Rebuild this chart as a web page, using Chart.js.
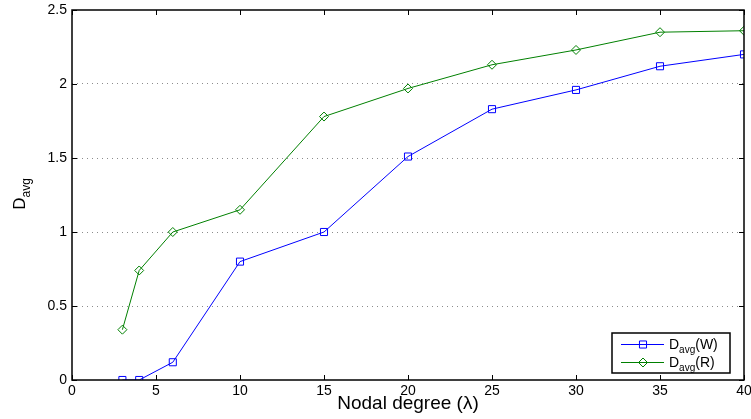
<!DOCTYPE html>
<html>
<head>
<meta charset="utf-8">
<script src="https://cdn.jsdelivr.net/npm/chart.js@4/dist/chart.umd.min.js"></script>
<style>
  html, body { margin: 0; padding: 0; background: #fff; }
  #wrap { width: 751px; height: 419px; }
</style>
</head>
<body>
<div id="wrap"><canvas id="chart_1"></canvas></div>
<script>
// nodal degree values on the x axis
const degrees = [3, 4, 6, 10, 15, 20, 25, 30, 35, 40];
// D_avg(W) and D_avg(R)
const davgW = [0, 0, 0.12, 0.80, 1.00, 1.51, 1.83, 1.96, 2.12, 2.20];
const davgR = [0.34, 0.74, 1.00, 1.15, 1.78, 1.97, 2.13, 2.23, 2.35, 2.36];
const xTicks = [0, 5, 10, 15, 20, 25, 30, 35, 40];
const yTicks = [0, 0.5, 1, 1.5, 2, 2.5];

const FONT = '"Liberation Sans", Arial, sans-serif';
const BLUE = '#0000ff';
const GREEN = '#008000';

function toPoints(xs, ys) {
    return xs.map((x, i) => ({ x: x, y: ys[i] }));
}

// draws the box, inward ticks, axis titles and the legend (subscripts need manual text)
const matlabLook = {
    id: 'matlabLook',
    afterDraw(chart) {
        const ctx = chart.ctx;
        const a = chart.chartArea;
        const xs = chart.scales.x;
        const ys = chart.scales.y;
        ctx.save();

        // inward ticks
        ctx.strokeStyle = '#000';
        ctx.lineWidth = 1;
        ctx.beginPath();
        xTicks.forEach((v) => {
            const px = Math.round(xs.getPixelForValue(v)) + 0.5;
            ctx.moveTo(px, a.bottom); ctx.lineTo(px, a.bottom - 5);
            ctx.moveTo(px, a.top); ctx.lineTo(px, a.top + 5);
        });
        yTicks.forEach((v) => {
            const py = Math.round(ys.getPixelForValue(v)) + 0.5;
            ctx.moveTo(a.left, py); ctx.lineTo(a.left + 5, py);
            ctx.moveTo(a.right, py); ctx.lineTo(a.right - 5, py);
        });
        ctx.stroke();

        // frame
        ctx.lineWidth = 1.5;
        ctx.strokeRect(a.left, a.top, a.right - a.left, a.bottom - a.top);

        // x title
        ctx.fillStyle = '#000';
        ctx.font = '19px ' + FONT;
        ctx.textAlign = 'center';
        ctx.textBaseline = 'alphabetic';
        ctx.fillText('Nodal degree (\u03bb)', (a.left + a.right) / 2, 409);

        // y title, rotated, with subscript
        ctx.save();
        ctx.translate(25, 194);
        ctx.rotate(-Math.PI / 2);
        ctx.textAlign = 'left';
        ctx.font = '17px ' + FONT;
        const dW = ctx.measureText('D').width;
        ctx.font = '12px ' + FONT;
        const sW = ctx.measureText('avg').width;
        const start = -(dW + sW) / 2;
        ctx.font = '17px ' + FONT;
        ctx.fillText('D', start, 0);
        ctx.font = '12px ' + FONT;
        ctx.fillText('avg', start + dW, 5);
        ctx.restore();

        // legend box
        const lx = 612, ly = 333, lw = 118, lh = 40;
        ctx.fillStyle = '#fff';
        ctx.fillRect(lx, ly, lw, lh);
        ctx.lineWidth = 1.5;
        ctx.strokeStyle = '#000';
        ctx.strokeRect(lx, ly, lw, lh);

        const entries = [
            { color: BLUE, style: 'rect', radius: 5, label: '(W)', y: ly + 11 },
            { color: GREEN, style: 'rectRot', radius: 4.5, label: '(R)', y: ly + 29 }
        ];
        entries.forEach((e) => {
            ctx.strokeStyle = e.color;
            ctx.lineWidth = 1;
            ctx.beginPath();
            ctx.moveTo(lx + 9, e.y + 0.5);
            ctx.lineTo(lx + 52, e.y + 0.5);
            ctx.stroke();
            ctx.fillStyle = 'rgba(0,0,0,0)';
            Chart.helpers.drawPoint(ctx, {
                pointStyle: e.style, radius: e.radius, borderWidth: 1, rotation: 0
            }, lx + 31, e.y + 0.5);

            ctx.fillStyle = '#000';
            ctx.textAlign = 'left';
            ctx.font = '14px ' + FONT;
            ctx.fillText('D', lx + 57, e.y + 5);
            const w1 = ctx.measureText('D').width;
            ctx.font = '10px ' + FONT;
            ctx.fillText('avg', lx + 57 + w1, e.y + 9);
            const w2 = ctx.measureText('avg').width;
            ctx.font = '14px ' + FONT;
            ctx.fillText(e.label, lx + 57 + w1 + w2, e.y + 5);
        });

        ctx.restore();
    }
};

const data = {
    datasets: [
        {
            label: 'Davg(W)',
            data: toPoints(degrees, davgW),
            borderColor: BLUE,
            backgroundColor: 'rgba(0,0,0,0)',
            borderWidth: 1,
            pointStyle: 'rect',
            pointRadius: 5,
            pointBorderWidth: 1,
            pointBorderColor: BLUE,
            pointBackgroundColor: 'rgba(0,0,0,0)',
            tension: 0
        },
        {
            label: 'Davg(R)',
            data: toPoints(degrees, davgR),
            borderColor: GREEN,
            backgroundColor: 'rgba(0,0,0,0)',
            borderWidth: 1,
            pointStyle: 'rectRot',
            pointRadius: 4.5,
            pointBorderWidth: 1,
            pointBorderColor: GREEN,
            pointBackgroundColor: 'rgba(0,0,0,0)',
            tension: 0
        }
    ]
};

const config = {
    type: 'line',
    data: data,
    options: {
        responsive: true,
        maintainAspectRatio: false,
        animation: false,
        layout: { padding: { left: 0, right: 7, top: 10, bottom: 0 } },
        plugins: {
            legend: { display: false },
            tooltip: { enabled: false }
        },
        scales: {
            x: {
                type: 'linear',
                min: 0,
                max: 40,
                afterFit: (s) => { s.height = 39; s.paddingLeft = 0; s.paddingRight = 0; },
                afterBuildTicks: (s) => { s.ticks = xTicks.map((v) => ({ value: v })); },
                grid: { display: false, drawTicks: false },
                border: { display: false },
                ticks: {
                    color: '#000',
                    padding: 3,
                    maxRotation: 0,
                    font: { family: FONT, size: 14 },
                    callback: (v) => String(v)
                }
            },
            y: {
                type: 'linear',
                min: 0,
                max: 2.5,
                afterFit: (s) => { s.width = 72; s.paddingTop = 0; s.paddingBottom = 0; },
                afterBuildTicks: (s) => { s.ticks = yTicks.map((v) => ({ value: v })); },
                grid: {
                    drawTicks: false,
                    lineWidth: 1,
                    color: (c) => (c.tick && (c.tick.value === 0 || c.tick.value === 2.5)) ? 'rgba(0,0,0,0)' : '#8c8c8c'
                },
                border: { display: false, dash: [1, 4] },
                ticks: {
                    color: '#000',
                    padding: 5,
                    font: { family: FONT, size: 14 },
                    callback: (v) => String(v)
                }
            }
        }
    },
    plugins: [matlabLook]
};

new Chart(document.getElementById('chart_1'), config);
</script>
</body>
</html>
